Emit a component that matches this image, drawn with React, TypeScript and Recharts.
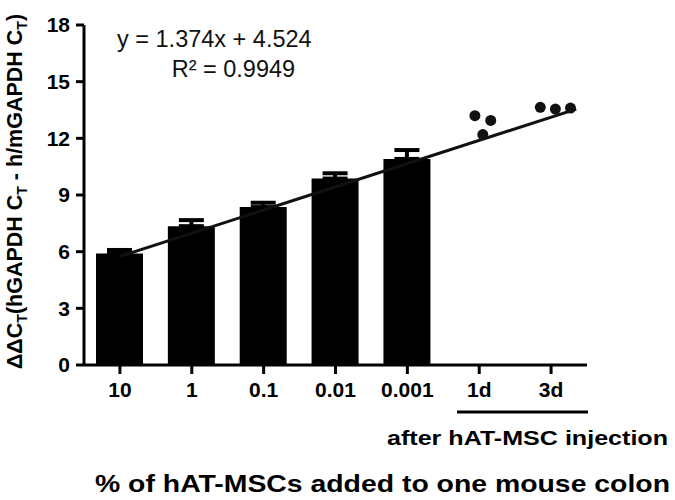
import { ComposedChart, Bar, XAxis, YAxis, Scatter, ErrorBar, ReferenceLine } from "recharts";

const categories = ["10", "1", "0.1", "0.01", "0.001", "1d", "3d"];
const barMeans = [5.9, 7.35, 8.36, 9.87, 10.91, null, null];
const barErrors = [0.19, 0.32, 0.23, 0.28, 0.47, null, null];

// individual mice after injection (x = category position, jittered)
const dotX = [5.94, 6.16, 6.05, 6.85, 7.06, 7.27];
const dotY = [13.2, 12.95, 12.2, 13.64, 13.55, 13.6];

// fitted line end points
const fitX = [1, 7.35];
const fitY = [5.75, 13.55];

const yTicks = [0, 3, 6, 9, 12, 15, 18];

const barRows = categories.map((cat, i) => ({
  cat,
  value: barMeans[i],
  err: barErrors[i] == null ? null : [0, barErrors[i]],
}));
const dots = dotX.map((x, i) => ({ x, y: dotY[i] }));

const font = "'Liberation Sans', Arial, sans-serif";

export default function App() {
  return (
    <div style={{ position: "absolute", left: 0, top: 0, width: 675, height: 500, background: "#fff" }}>
      <ComposedChart width={675} height={500} data={barRows} margin={{ top: 25, right: 88, left: 0, bottom: 0 }}>
        <XAxis
          xAxisId="cat"
          dataKey="cat"
          height={135}
          axisLine={{ stroke: "#000", strokeWidth: 3 }}
          tickLine={{ stroke: "#000", strokeWidth: 3 }}
          tickSize={9}
          tickMargin={8}
          tick={{ fill: "#000", fontSize: 21, fontWeight: "bold", fontFamily: font }}
        />
        <XAxis xAxisId="num" type="number" dataKey="x" domain={[0.5, 7.5]} allowDataOverflow hide />
        <YAxis
          width={84}
          domain={[0, 18]}
          ticks={yTicks}
          interval={0}
          allowDataOverflow
          axisLine={{ stroke: "#000", strokeWidth: 3 }}
          tickLine={{ stroke: "#000", strokeWidth: 3 }}
          tickSize={8}
          tickMargin={6}
          tick={{ fill: "#000", fontSize: 21, fontWeight: "bold", fontFamily: font }}
        />
        <YAxis yAxisId="num" dataKey="y" domain={[0, 18]} allowDataOverflow hide />
        <Bar xAxisId="cat" dataKey="value" fill="#000" barSize={47} isAnimationActive={false}>
          <ErrorBar dataKey="err" width={12.5} strokeWidth={4} stroke="#000" isAnimationActive={false} />
        </Bar>
        <ReferenceLine
          xAxisId="num"
          yAxisId="num"
          segment={[
            { x: fitX[0], y: fitY[0] },
            { x: fitX[1], y: fitY[1] },
          ]}
          stroke="#111"
          strokeWidth={3}
        />
        <Scatter
          xAxisId="num"
          yAxisId="num"
          data={dots}
          fill="#111"
          isAnimationActive={false}
          shape={(p: any) => <circle cx={p.cx} cy={p.cy} r={5.5} fill="#111" />}
        />
      </ComposedChart>

      <svg width={675} height={500} style={{ position: "absolute", left: 0, top: 0, pointerEvents: "none" }}>
        <g fontFamily={font} fill="#111">
          <text x={117} y={46.7} fontSize={23.5}>y = 1.374x + 4.524</text>
          <text x={171.7} y={76.7} fontSize={23.5}>R² = 0.9949</text>
        </g>
        <text
          transform="translate(21.5,191.5) rotate(-90)"
          textAnchor="middle"
          fontFamily={font}
          fontWeight="bold"
          fontSize={21.5}
          fill="#000"
        >
          ΔΔC<tspan fontSize={14} dy={5}>T</tspan>
          <tspan dy={-5}>(hGAPDH C</tspan>
          <tspan fontSize={14} dy={5}>T</tspan>
          <tspan dy={-5}> - h/mGAPDH C</tspan>
          <tspan fontSize={14} dy={5}>T</tspan>
          <tspan dy={-5}>)</tspan>
        </text>
        <line x1={457} y1={412} x2={588} y2={412} stroke="#000" strokeWidth={3} />
        <text x={668} y={445} textAnchor="end" fontFamily={font} fontWeight="bold" fontSize={20.5} fill="#000" textLength={281} lengthAdjust="spacingAndGlyphs">
          after hAT-MSC injection
        </text>
        <text x={95} y={491.5} fontFamily={font} fontWeight="bold" fontSize={24} fill="#000" textLength={575} lengthAdjust="spacingAndGlyphs">
          % of hAT-MSCs added to one mouse colon
        </text>
      </svg>
    </div>
  );
}
